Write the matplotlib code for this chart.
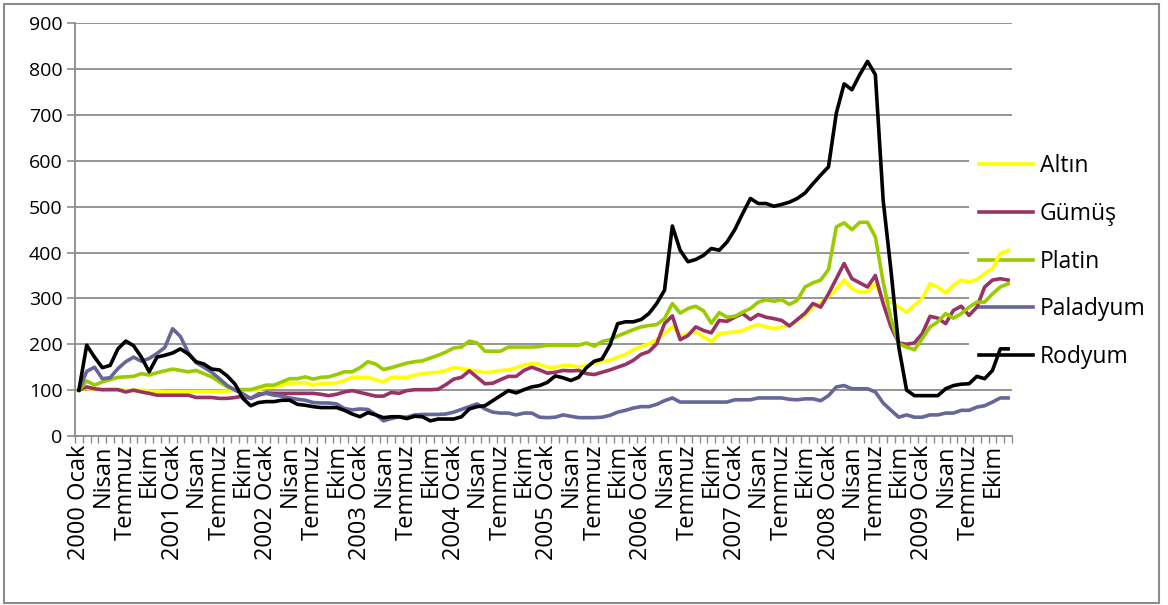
import matplotlib
matplotlib.use("Agg")
import matplotlib.pyplot as plt
import numpy as np
from matplotlib.patches import Rectangle

# monthly index, 2000 Ocak = 100
years = list(range(2000, 2010))
quarter_months = ["Ocak", "Nisan", "Temmuz", "Ekim"]

altin = [
    100, 104, 101, 101, 103, 102, 99, 99, 100, 98,
    98, 97, 97, 97, 97, 97, 97, 97, 97, 98,
    100, 102, 101, 101, 106, 107, 111, 115, 116, 116,
    111, 115, 115, 116, 121, 128, 128, 128, 123, 118,
    128, 128, 128, 133, 136, 138, 139, 143, 149, 147,
    144, 142, 138, 140, 143, 144, 149, 155, 158, 156,
    150, 150, 154, 154, 150, 154, 158, 163, 165, 172,
    178, 188, 195, 201, 210, 223, 239, 219, 223, 227,
    216, 206, 223, 225, 227, 230, 238, 243, 238, 234,
    238, 240, 252, 263, 281, 290, 305, 320, 340, 321,
    314, 314, 332, 296, 292, 281, 270, 285, 300, 332,
    325, 312, 329, 340, 336, 341, 354, 365, 398, 405,
]
gumus = [
    100, 107, 103, 101, 101, 101, 96, 100, 96, 93,
    89, 89, 89, 89, 89, 84, 84, 84, 82, 82,
    84, 87, 82, 89, 94, 93, 93, 93, 93, 93,
    93, 91, 88, 91, 96, 99, 95, 91, 87, 87,
    95, 93, 99, 101, 101, 101, 102, 112, 124, 128,
    142, 128, 114, 115, 123, 130, 130, 143, 150, 144,
    137, 139, 143, 142, 143, 136, 134, 139, 144, 150,
    156, 165, 178, 184, 201, 245, 262, 210, 219, 238,
    230, 225, 252, 250, 259, 267, 254, 265, 259, 256,
    252, 240, 254, 268, 289, 281, 310, 343, 376, 343,
    334, 325, 350, 289, 238, 203, 200, 203, 223, 261,
    257, 245, 274, 283, 263, 281, 325, 340, 343, 340,
]
platin = [
    100, 120, 111, 118, 123, 128, 129, 130, 136, 133,
    138, 142, 146, 143, 140, 143, 136, 129, 118, 107,
    101, 101, 101, 106, 111, 111, 118, 125, 125, 129,
    124, 128, 129, 134, 140, 140, 149, 162, 157, 145,
    149, 154, 159, 162, 164, 170, 176, 183, 192, 194,
    207, 203, 185, 185, 185, 194, 194, 194, 194, 195,
    198, 198, 198, 198, 198, 203, 196, 206, 210, 218,
    225, 232, 238, 241, 243, 256, 289, 268, 278, 283,
    273, 246, 269, 259, 261, 270, 278, 292, 297, 294,
    297, 287, 296, 325, 334, 340, 363, 456, 465, 450,
    466, 466, 434, 336, 256, 201, 194, 188, 212, 238,
    249, 267, 257, 267, 281, 292, 292, 310, 325, 332,
]
paladyum = [
    100, 141, 150, 125, 127, 147, 162, 172, 163, 169,
    180, 193, 234, 217, 182, 160, 150, 139, 125, 110,
    100, 92, 82, 92, 93, 89, 87, 83, 80, 78,
    73, 72, 72, 70, 60, 57, 59, 58, 47, 33,
    38, 42, 41, 46, 47, 47, 47, 48, 52, 58,
    64, 70, 59, 52, 50, 50, 46, 50, 50, 41,
    40, 41, 46, 43, 40, 40, 40, 41, 45, 52,
    56, 61, 64, 64, 69, 77, 83, 74, 74, 74,
    74, 74, 74, 74, 79, 79, 79, 83, 83, 83,
    83, 80, 79, 81, 81, 77, 88, 107, 110, 103,
    103, 103, 96, 72, 56, 41, 46, 41, 41, 46,
    46, 50, 50, 56, 56, 63, 66, 74, 83, 83,
]
rodyum = [
    100, 198, 172, 149, 154, 190, 207, 197, 172, 140,
    172, 176, 181, 190, 179, 162, 157, 146, 144, 131,
    113, 82, 66, 73, 75, 75, 78, 78, 69, 67,
    64, 62, 62, 62, 56, 48, 42, 51, 46, 40,
    42, 42, 38, 43, 42, 33, 37, 37, 37, 42,
    59, 64, 66, 77, 88, 99, 94, 101, 107, 110,
    117, 131, 127, 121, 128, 149, 163, 168, 198, 245,
    249, 249, 254, 267, 289, 318, 458, 405, 380, 385,
    394, 409, 405, 423, 450, 485, 518, 507, 507, 501,
    505, 510, 518, 530, 550, 569, 587, 704, 768, 755,
    788, 817, 788, 514, 361, 194, 100, 88, 88, 88,
    88, 103, 110, 113, 114, 130, 125, 143, 190, 190,
]

series = [
    ("Altın", altin, "#FFFF00"),
    ("Gümüş", gumus, "#993366"),
    ("Platin", platin, "#99CC00"),
    ("Paladyum", paladyum, "#666699"),
    ("Rodyum", rodyum, "#000000"),
]

tick_pos = []
tick_labels = []
for k, y in enumerate(years):
    for q, m in enumerate(quarter_months):
        tick_pos.append(k * 12 + q * 3)
        tick_labels.append(f"{y} {m}" if m == "Ocak" else m)

plt.rcParams["font.family"] = ["Open Sans", "DejaVu Sans"]
GRID = "#8c8c8c"

W, H = 1168, 605
fig = plt.figure(figsize=(W / 100, H / 100), dpi=100)
ax = fig.add_axes([75 / W, 1 - 436 / H, (1012 - 75) / W, (436 - 23.3) / H])

x = np.arange(len(altin))
for name, vals, col in series:
    ax.plot(x, vals, color=col, lw=2.6, label=name, zorder=3)

ax.set_xlim(-0.5, len(altin) - 0.5)
ax.set_ylim(0, 900)
ax.set_yticks(np.arange(0, 901, 100))
ax.tick_params(axis="y", labelsize=14, length=6, width=1.2, color=GRID, pad=3)
ax.set_xticks(tick_pos)
ax.set_xticklabels(tick_labels, rotation=90, fontsize=17, va="top", ha="center")
ax.set_xticks(np.arange(-0.5, len(altin)), minor=True)
ax.tick_params(axis="x", which="major", length=0, pad=6)
ax.tick_params(axis="x", which="minor", length=5, width=1, color=GRID)

ax.grid(axis="y", color=GRID, lw=1.3)
ax.set_axisbelow(True)
for s in ["top", "right"]:
    ax.spines[s].set_visible(False)
for s in ["left", "bottom"]:
    ax.spines[s].set_color(GRID)
    ax.spines[s].set_linewidth(1.3)

leg = ax.legend(loc="upper left", bbox_to_anchor=(969 / W, 1 - 144 / H),
                bbox_transform=fig.transFigure, fontsize=16.5, frameon=True,
                framealpha=1, facecolor="white", edgecolor="none", fancybox=False,
                handlelength=2.35, handletextpad=0.3, labelspacing=1.03,
                borderpad=0.45, borderaxespad=0)
leg.set_zorder(2)

fig.patches.append(Rectangle((4 / W, 2 / H), (1159 - 4) / W, (602 - 3) / H,
                             transform=fig.transFigure, fill=False,
                             edgecolor=GRID, lw=1.5))

fig.savefig("out.png", dpi=100)
